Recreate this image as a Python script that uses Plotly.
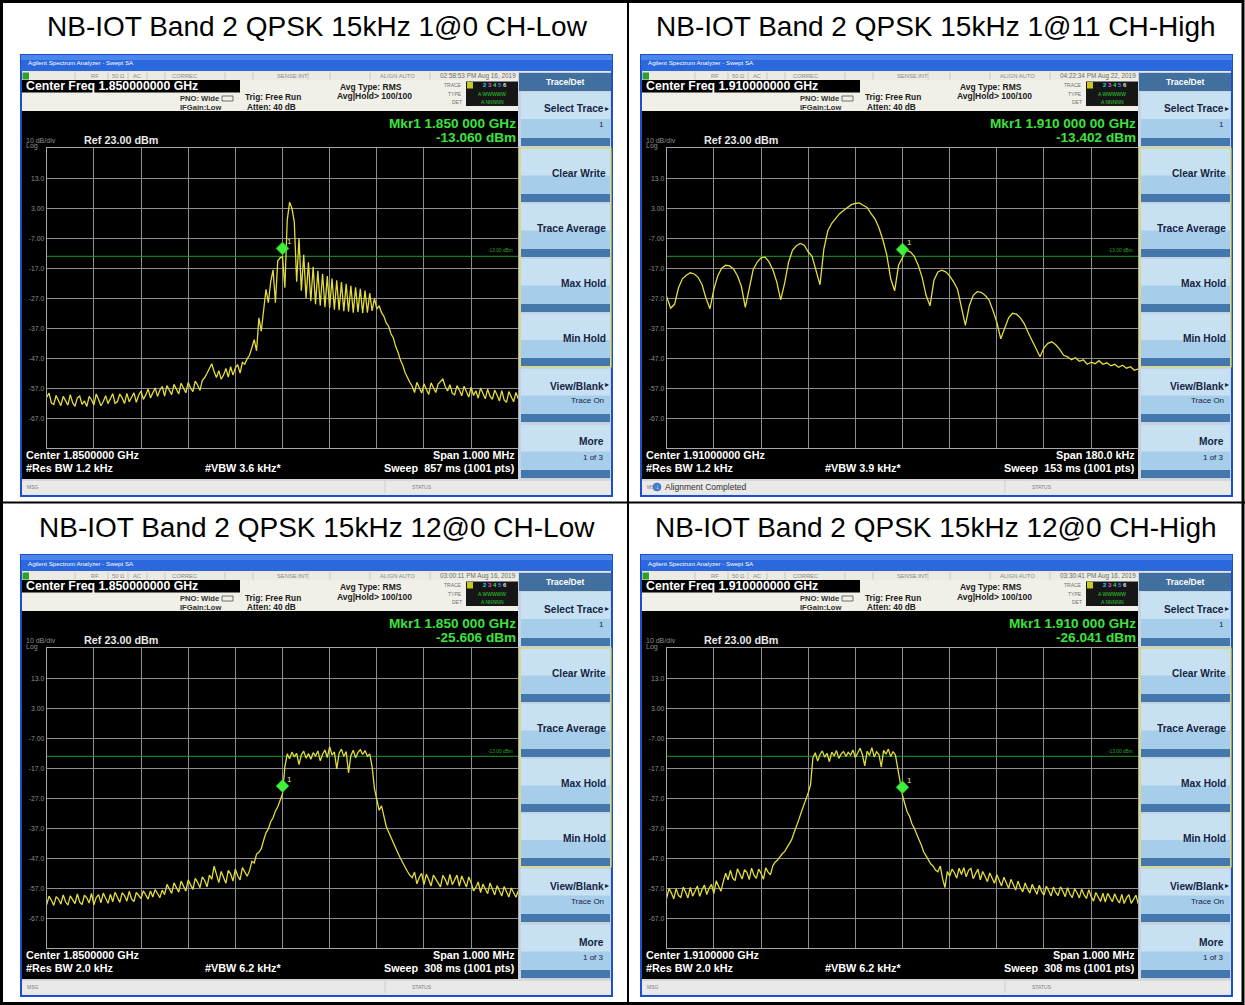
import numpy as np
import plotly.graph_objects as go

# ---------------- data ----------------
panel_titles = [
    "NB-IOT Band 2 QPSK 15kHz 1@0 CH-Low",
    "NB-IOT Band 2 QPSK 15kHz 1@11 CH-High",
    "NB-IOT Band 2 QPSK 15kHz 12@0 CH-Low",
    "NB-IOT Band 2 QPSK 15kHz 12@0 CH-High",
]
center_freq_hdr = ["1.850000000 GHz", "1.910000000 GHz", "1.850000000 GHz", "1.910000000 GHz"]
timestamps = ["02:58:53 PM Aug 16, 2019", "04:22:34 PM Aug 22, 2019",
              "03:00:11 PM Aug 16, 2019", "03:30:41 PM Aug 16, 2019"]
marker_freq_text = ["1.850 000 GHz", "1.910 000 00 GHz", "1.850 000 GHz", "1.910 000 GHz"]
marker_level_dbm = [-13.060, -13.402, -25.606, -26.041]
center_text = ["1.8500000 GHz", "1.91000000 GHz", "1.8500000 GHz", "1.9100000 GHz"]
res_bw_text = ["1.2 kHz", "1.2 kHz", "2.0 kHz", "2.0 kHz"]
vbw_text = ["3.6 kHz*", "3.9 kHz*", "6.2 kHz*", "6.2 kHz*"]
span_text = ["1.000 MHz", "180.0 kHz", "1.000 MHz", "1.000 MHz"]
sweep_ms = ["857", "153", "308", "308"]
span_khz = [1000, 180, 1000, 1000]
msg_text = ["", "Alignment Completed", "", ""]
ref_level_dbm = 23
bottom_level_dbm = -77
limit_dbm = -13
ytick_vals = [13, 3, -7, -17, -27, -37, -47, -57, -67]
ytick_text = ["13.0", "3.00", "-7.00", "-17.0", "-27.0", "-37.0", "-47.0", "-57.0", "-67.0"]

trace_1at0_low = [
    -60.0, -58.6, -61.9, -62.4, -59.4, -60.9, -62.8, -59.7, -61.3, -62.6,
    -59.1, -61.8, -63.0, -60.2, -59.6, -62.4, -61.2, -63.1, -59.7, -60.8,
    -62.6, -58.9, -60.7, -62.8, -61.4, -59.5, -62.1, -60.3, -58.8, -62.0,
    -61.4, -58.9, -60.2, -62.1, -58.7, -61.5, -60.1, -58.5, -61.7, -59.3,
    -57.9, -60.7, -59.2, -57.2, -60.2, -58.4, -56.9, -59.7, -57.6, -56.4,
    -59.6, -56.1, -57.9, -59.1, -55.7, -57.3, -58.9, -55.3, -56.8, -58.5,
    -55.0, -56.9, -58.1, -54.6, -55.9, -57.7, -54.3, -53.4, -52.0, -50.1,
    -48.8, -51.5, -53.4, -51.1, -54.0, -52.6, -50.4, -53.3, -49.8, -52.6,
    -50.2, -49.1, -51.9, -48.4, -49.0, -47.2, -46.0, -43.5, -40.8, -44.5,
    -33.5, -38.0, -30.0, -24.0, -28.5, -21.5, -17.5, -28.5, -14.5, -13.5,
    -13.1, -23.5, -1.0, 5.0, 3.0, -1.5, -21.5, -7.0, -24.5, -12.5,
    -27.0, -15.0, -28.0, -16.5, -29.0, -17.8, -29.5, -18.8, -30.0, -19.6,
    -30.2, -20.4, -30.8, -21.0, -31.0, -21.6, -31.3, -22.2, -31.5, -22.8,
    -31.8, -23.3, -31.6, -23.8, -32.0, -24.4, -31.8, -25.3, -31.2, -27.0,
    -30.5, -29.5, -31.8, -33.0, -35.2, -36.3, -38.8, -40.2, -43.1, -45.0,
    -47.6, -49.3, -51.8, -53.5, -55.0, -56.3, -58.4, -55.0, -56.9, -58.6,
    -55.5, -57.4, -59.1, -55.2, -56.8, -58.4, -55.6, -54.6, -53.9, -56.4,
    -57.9, -55.8, -58.6, -59.2, -56.1, -57.6, -59.5, -56.3, -58.0, -59.9,
    -56.6, -59.4, -57.8, -60.3, -56.9, -58.8, -60.5, -57.3, -59.6, -60.7,
    -57.6, -59.2, -61.2, -57.8, -60.9, -61.7, -58.1, -59.8, -61.5, -58.4,
    -60.6,
]

trace_1at11_high = [
    -26.5, -30.3, -29.0, -23.5, -20.5, -19.3, -18.5, -18.9, -20.0, -22.5,
    -27.0, -30.5, -24.0, -19.5, -17.0, -16.0, -16.2, -17.2, -19.5, -23.0,
    -30.0, -23.5, -17.5, -15.0, -13.5, -13.2, -14.8, -17.5, -21.5, -27.5,
    -22.0, -15.0, -11.0, -9.5, -8.7, -9.3, -11.5, -13.0, -18.0, -22.5,
    -10.5, -4.5, -2.0, -0.2, 1.2, 2.3, 3.4, 4.2, 4.6, 4.8,
    4.0, 3.3, 1.2, -0.5, -3.5, -7.5, -12.5, -20.5, -24.5, -16.0,
    -13.4, -11.0, -11.5, -13.0, -16.0, -20.0, -26.0, -29.5, -21.0, -18.2,
    -17.6, -18.2, -19.5, -21.5, -24.0, -29.5, -36.0, -29.5, -26.0, -24.8,
    -25.0, -26.0, -27.5, -31.0, -35.0, -40.5, -37.0, -33.5, -32.0, -32.3,
    -33.5, -35.5, -38.5, -41.0, -44.0, -46.5, -43.5, -42.0, -41.5, -42.5,
    -44.0, -46.0, -46.5, -47.5, -46.8, -48.0, -47.5, -49.0, -48.3, -48.8,
    -47.8, -49.0, -48.5, -49.5, -49.0, -50.0, -49.3, -50.3, -49.8, -51.0,
    -50.5,
]

trace_12at0_low = [
    -62.4, -59.6, -61.0, -62.7, -59.8, -60.6, -62.3, -59.2, -61.5, -62.6,
    -59.5, -60.8, -62.1, -58.9, -61.6, -62.4, -59.3, -60.2, -61.9, -58.7,
    -62.5, -60.1, -59.1, -61.8, -58.6, -60.3, -62.0, -59.0, -61.5, -58.3,
    -60.0, -61.7, -58.5, -59.4, -61.3, -58.0, -60.6, -61.4, -58.4, -59.6,
    -60.4, -57.8, -59.3, -60.6, -57.9, -59.9, -57.4, -58.6, -60.1, -57.6,
    -59.1, -55.7, -57.3, -58.7, -55.2, -56.8, -58.3, -54.6, -56.0, -57.9,
    -54.2, -55.6, -57.4, -53.7, -55.0, -56.8, -53.2, -54.4, -56.5, -52.6,
    -54.0, -49.6, -52.4, -55.1, -51.4, -53.6, -55.3, -51.0, -52.2, -54.6,
    -50.6, -52.8, -54.2, -50.1, -51.5, -53.0, -51.2, -48.0, -48.6, -45.6,
    -45.0, -43.8, -41.0, -38.5, -37.2, -34.8, -33.5, -31.2, -29.8, -27.5,
    -25.6, -16.5, -12.2, -13.8, -11.6, -13.2, -12.0, -15.8, -12.5, -11.3,
    -13.6, -12.1, -14.0, -11.8, -12.9, -11.2, -14.5, -12.3, -10.9, -13.4,
    -9.8, -12.6, -11.5, -17.2, -12.0, -10.6, -13.1, -11.4, -18.5, -12.8,
    -11.0, -13.5, -11.7, -10.8, -12.4, -11.1, -13.0, -12.2, -16.5, -23.8,
    -27.5, -31.0, -29.5, -33.6, -36.4, -38.2, -40.1, -42.0, -43.8, -45.3,
    -47.0, -48.6, -50.1, -51.4, -52.6, -53.5, -51.6, -55.5, -53.4, -52.0,
    -55.8, -52.3, -54.1, -56.2, -52.6, -53.8, -55.4, -56.5, -52.7, -54.0,
    -56.0, -52.4, -55.8, -54.2, -52.6, -56.3, -52.9, -54.7, -56.6, -53.2,
    -55.1, -57.9, -56.7, -54.9, -58.4, -55.6, -57.1, -58.8, -55.2, -57.6,
    -59.2, -56.1, -57.8, -59.6, -56.4, -58.1, -59.9, -56.9, -58.3, -60.0,
    -57.8,
]

trace_12at0_high = [
    -60.3, -57.0, -58.6, -60.5, -57.1, -59.4, -60.0, -56.6, -58.2, -60.2,
    -56.7, -59.6, -58.0, -56.2, -59.7, -57.4, -55.9, -59.1, -57.0, -55.7,
    -58.8, -54.5, -56.3, -58.0, -54.8, -52.0, -54.2, -51.0, -53.6, -54.4,
    -50.5, -52.2, -53.9, -50.8, -51.7, -54.1, -50.3, -52.6, -53.7, -50.6,
    -52.0, -54.0, -50.2, -51.6, -52.5, -49.5, -48.3, -47.6, -46.5, -45.5,
    -44.8, -43.5, -42.3, -40.8, -38.5, -36.5, -34.2, -31.8, -29.8, -27.5,
    -25.2, -22.5, -13.5, -11.8, -14.6, -12.4, -11.2, -13.3, -12.0, -14.8,
    -11.6, -12.9, -11.1, -13.7, -12.2, -11.4, -13.0, -11.7, -12.6, -10.9,
    -13.4, -11.9, -10.3, -12.5, -16.2, -11.3, -12.7, -10.1, -13.2, -11.5,
    -12.4, -16.5, -11.0, -12.3, -10.6, -13.1, -11.4, -12.6, -17.2, -21.0,
    -26.0, -28.9, -31.6, -33.0, -35.5, -37.0, -39.2, -40.8, -42.6, -44.9,
    -46.2, -47.5, -48.9, -49.6, -50.9, -51.5, -49.6, -53.8, -56.8, -51.4,
    -53.0, -50.6, -51.8, -53.6, -50.3, -52.4, -50.1, -53.2, -51.0, -50.4,
    -53.8, -52.1, -50.6, -54.2, -51.4, -53.0, -54.8, -51.9, -53.5, -55.3,
    -52.5, -54.4, -56.2, -53.3, -55.0, -57.0, -54.0, -56.1, -57.6, -54.6,
    -56.8, -58.2, -55.2, -57.1, -58.6, -55.7, -57.4, -59.0, -56.0, -58.1,
    -59.3, -56.3, -57.8, -59.6, -56.6, -58.4, -59.4, -56.5, -58.0, -59.8,
    -56.8, -58.9, -60.1, -57.1, -58.5, -60.2, -57.3, -59.2, -60.4, -57.5,
    -59.7, -61.3, -58.4, -60.1, -61.4, -58.6, -61.6, -58.7, -60.3, -61.5,
    -58.8, -60.7, -61.9, -59.0, -62.1, -60.2, -59.1, -62.0, -60.7, -59.3,
    -62.3,
]

traces = [trace_1at0_low, trace_1at11_high, trace_12at0_low, trace_12at0_high]

# ---------------- layout / style ----------------
W, H = 1245, 1005
FONT = "Liberation Sans, Arial, sans-serif"
PANEL_ORIGIN = [(0, 0), (620, 0), (0, 500), (620, 500)]
GX0, GX1, GY0, GY1 = 46.7, 518.3, 148.3, 448.3
MARKER_RAISE_DB = 2.7
TRACE_COLOR = "#e2dc3c"

shapes = []
annotations = []


def px(x):
    return x / W


def py(y):
    return 1 - y / H


def rect(x0, y0, x1, y1, fill, lc=None, lw=0):
    shapes.append(dict(type="rect", xref="paper", yref="paper",
                       x0=px(x0), x1=px(x1), y0=py(y1), y1=py(y0),
                       fillcolor=fill, line=dict(color=lc or fill, width=lw),
                       layer="below"))


def seg(x0, y0, x1, y1, color, w=1):
    shapes.append(dict(type="line", xref="paper", yref="paper",
                       x0=px(x0), x1=px(x1), y0=py(y0), y1=py(y1),
                       line=dict(color=color, width=w), layer="below"))


def text(x, y, s, size, color, anchor="left", bold=False, family=FONT):
    if bold:
        s = "<b>" + s + "</b>"
    annotations.append(dict(xref="paper", yref="paper", x=px(x), y=py(y), text=s,
                            showarrow=False, xanchor=anchor, yanchor="middle",
                            font=dict(size=size, color=color, family=family)))


fig = go.Figure()

# table borders and titles
rect(1.5, 1.5, 1243, 1003.5, "rgba(0,0,0,0)", "black", 3)
seg(628, 0, 628, 1005, "black", 2)
seg(0, 502.5, 1245, 502.5, "black", 2)
title_pos = [(317, 27), (936, 27), (317, 527), (936, 527)]
for k in range(4):
    tx, ty = title_pos[k]
    text(tx, ty, panel_titles[k], 28, "black", "center")

for k in range(4):
    dx, dy = PANEL_ORIGIN[k]

    def R(x0, y0, x1, y1, fill, lc=None, lw=0):
        rect(x0 + dx, y0 + dy, x1 + dx, y1 + dy, fill, lc, lw)

    def L(x0, y0, x1, y1, c, w=1):
        seg(x0 + dx, y0 + dy, x1 + dx, y1 + dy, c, w)

    def T(x, y, s, size, color, anchor="left", bold=False):
        text(x + dx, y + dy, s, size, color, anchor, bold)

    # window frame
    R(20, 54, 613, 497, "#1c4fd0")
    R(21, 55, 612, 71, "#2b67dd")
    R(21, 55, 612, 60, "#4b86eb")
    T(26, 63, "Agilent Spectrum Analyzer - Swept SA", 6.2, "white")
    R(22, 71, 611, 495, "#e6e6df")

    # status strip
    R(22, 72, 518, 80, "#ebeae3")
    R(22.5, 72.5, 29, 79.5, "#2f9e2f")
    for sx in [75, 108, 128, 147, 165, 225, 253, 308, 330, 370, 430]:
        L(sx, 72.5, sx, 79.5, "#b8b8b0", 0.7)
    for sx, s in [(95, "RF"), (118, "50 Ω"), (137, "AC"), (185, "CORREC"),
                  (292, "SENSE:INT"), (397, "ALIGN AUTO")]:
        T(sx, 76.2, s, 5.8, "#8c8c86", "center")
    T(518, 76.2, timestamps[k], 6.4, "#6c6c66", "right")

    # info area
    R(22, 80, 518, 111, "#f1f0e8")
    R(22, 80, 240, 92.5, "black")
    T(23.5, 86.3, "Center Freq " + center_freq_hdr[k], 12.3, "white", bold=True)
    T(178, 98.5, "PNO: Wide", 7.6, "#303030", bold=True)
    T(178, 107.5, "IFGain:Low", 7.6, "#303030", bold=True)
    R(222, 96, 233, 101, "#f1f0e8", "#505050", 0.8)
    T(243, 97.5, "Trig: Free Run", 8.3, "#202020", bold=True)
    T(245, 106.5, "Atten: 40 dB", 8.3, "#202020", bold=True)
    T(338, 87, "Avg Type: RMS", 8.5, "#202020", bold=True)
    T(335, 96.5, "Avg|Hold> 100/100", 8.5, "#202020", bold=True)
    T(464, 85, "TRACE", 5, "#707070", "right")
    T(464, 93.5, "TYPE", 5, "#707070", "right")
    T(464, 102, "DET", 5, "#707070", "right")
    R(466, 81.5, 518, 106, "#161616")
    R(467, 82, 473, 88.5, "#c8c820")
    T(492, 85.2, "<span style='color:#101010'>1</span> <span style='color:#2ad0f0'>2</span> "
      "<span style='color:#e050e0'>3</span> <span style='color:#40e040'>4</span> "
      "<span style='color:#5080ff'>5</span> <span style='color:#e0e0e0'>6</span>",
      6, "#ffffff", "center", bold=True)
    T(492, 93.5, "A WWWWW", 5, "#30d030", "center")
    T(492, 102, "A NNNNN", 5, "#30d030", "center")

    # display area
    R(22, 111, 518, 479, "black")
    T(517.5, 123, "Mkr1 " + marker_freq_text[k], 13.6, "#3ee23e", "right", True)
    T(517.5, 137, "%.3f dBm" % marker_level_dbm[k], 13.6, "#3ee23e", "right", True)
    T(24, 140, "10 dB/div", 7, "#8e8e8e")
    T(24, 146.5, "Log", 7, "#8e8e8e")
    T(82, 140, "Ref %.2f dBm" % ref_level_dbm, 10.8, "#e8e8e8", bold=True)
    T(515, 251, "%.2f dBm" % limit_dbm, 4.8, "#2aa52a", "right")
    T(24, 455, "Center " + center_text[k], 10.8, "white", bold=True)
    T(24, 468, "#Res BW " + res_bw_text[k], 10.8, "white", bold=True)
    T(203, 468, "#VBW " + vbw_text[k], 10.8, "white", bold=True)
    T(517, 455, "Span " + span_text[k], 10.8, "white", "right", True)
    T(517, 468, "Sweep  " + sweep_ms[k] + " ms (1001 pts)", 10.8, "white", "right", True)

    # soft keys
    R(518, 72, 611, 479, "#c5d3e0")
    R(519, 73, 611, 91, "#41709f")
    T(565, 82, "Trace/Det", 8.5, "white", "center", True)
    buttons = [(92, 146, "Select Trace", "1", True), (149, 202, "Clear Write", "", False),
               (204, 257, "Trace Average", "", False), (259, 312, "Max Hold", "", False),
               (314, 366, "Min Hold", "", False), (369, 422, "View/Blank", "Trace On", True),
               (425, 478, "More", "1 of 3", False)]
    for (b0, b1, lab, sub, arrow) in buttons:
        R(521, b0, 610, b1, "#a6cdea")
        R(521, b0, 610, b0 + (b1 - b0) * 0.5, "#c7e1f3")
        R(521, b1 - 8, 610, b1, "#4478ac")
        if sub:
            T(606, b0 + 17, lab, 10.2, "#15243f", "right", True)
            T(606, b0 + 32, sub, 8, "#15243f", "right")
        else:
            T(608, b0 + 24, lab, 10.2, "#15243f", "right", True)
        if arrow:
            T(611, b0 + 16, "▸", 8, "#15243f", "right")
    R(520, 148, 611, 367, "rgba(0,0,0,0)", "#e3dc55", 1.2)

    # status bar
    R(22, 480, 611, 494, "#e9e9e9")
    L(22, 480, 611, 480, "#bdbdbd", 0.8)
    T(25, 487, "MSG", 5, "#7a7a7a")
    T(410, 487, "STATUS", 5, "#7a7a7a")
    L(385, 481, 385, 493, "#c8c8c8", 0.8)
    if msg_text[k]:
        shapes.append(dict(type="circle", xref="paper", yref="paper",
                           x0=px(33 + dx), x1=px(41 + dx), y0=py(491 + dy), y1=py(483 + dy),
                           fillcolor="#3a7ee0", line=dict(color="#2a5eb0", width=0.5),
                           layer="below"))
        T(37, 487, "↓", 6, "white", "center", True)
        T(43, 487, msg_text[k], 8.5, "#303030")

    # ---- spectrum plot ----
    ax = "" if k == 0 else str(k + 1)
    vals = traces[k]
    half = span_khz[k] / 2
    x = np.linspace(-half, half, len(vals))
    fig.add_trace(go.Scatter(x=[-half, half], y=[limit_dbm, limit_dbm], mode="lines",
                             line=dict(color="#1f9a2a", width=1), xaxis="x" + ax, yaxis="y" + ax,
                             hoverinfo="skip", showlegend=False))
    fig.add_trace(go.Scatter(x=x, y=vals, mode="lines",
                             line=dict(color=TRACE_COLOR, width=1.3),
                             xaxis="x" + ax, yaxis="y" + ax, showlegend=False))
    fig.add_trace(go.Scatter(x=[0], y=[marker_level_dbm[k] + MARKER_RAISE_DB], mode="markers",
                             marker=dict(symbol="diamond", size=10, color="#3cf03c",
                                         line=dict(color="#20a020", width=0.5)),
                             xaxis="x" + ax, yaxis="y" + ax, showlegend=False))
    annotations.append(dict(xref="x" + ax, yref="y" + ax, x=0,
                            y=marker_level_dbm[k] + MARKER_RAISE_DB, text="1",
                            showarrow=False, xshift=7, yshift=7,
                            font=dict(size=8, color="#e8e8a0", family=FONT)))

    xdom = [px(GX0 + dx), px(GX1 + dx)]
    ydom = [py(GY1 + dy), py(GY0 + dy)]
    fig.update_layout(**{
        "xaxis" + ax: dict(domain=xdom, range=[-half, half], tick0=-half, dtick=span_khz[k] / 10,
                           showticklabels=False, showgrid=True, gridcolor="#8e8e8e", gridwidth=1,
                           zeroline=False, showline=True, linecolor="#a8a8a8", linewidth=1,
                           mirror=True, ticks="", fixedrange=True, anchor="y" + ax,
                           automargin=False),
        "yaxis" + ax: dict(domain=ydom, range=[bottom_level_dbm, ref_level_dbm],
                           tickvals=ytick_vals, ticktext=ytick_text,
                           tickfont=dict(size=6.8, color="#8e8e8e", family=FONT),
                           showgrid=True, gridcolor="#8e8e8e", gridwidth=1, zeroline=False,
                           showline=True, linecolor="#a8a8a8", linewidth=1, mirror=True,
                           ticks="", fixedrange=True, anchor="x" + ax, automargin=False),
    })

fig.update_layout(
    template="none",
    width=W, height=H,
    margin=dict(l=0, r=0, t=0, b=0),
    paper_bgcolor="white",
    plot_bgcolor="black",
    showlegend=False,
    hovermode=False,
    shapes=shapes,
    annotations=annotations,
)

fig.write_html("out.html", config={"displayModeBar": False},
               post_script="document.body.style.margin='0';document.body.style.overflow='hidden';")
